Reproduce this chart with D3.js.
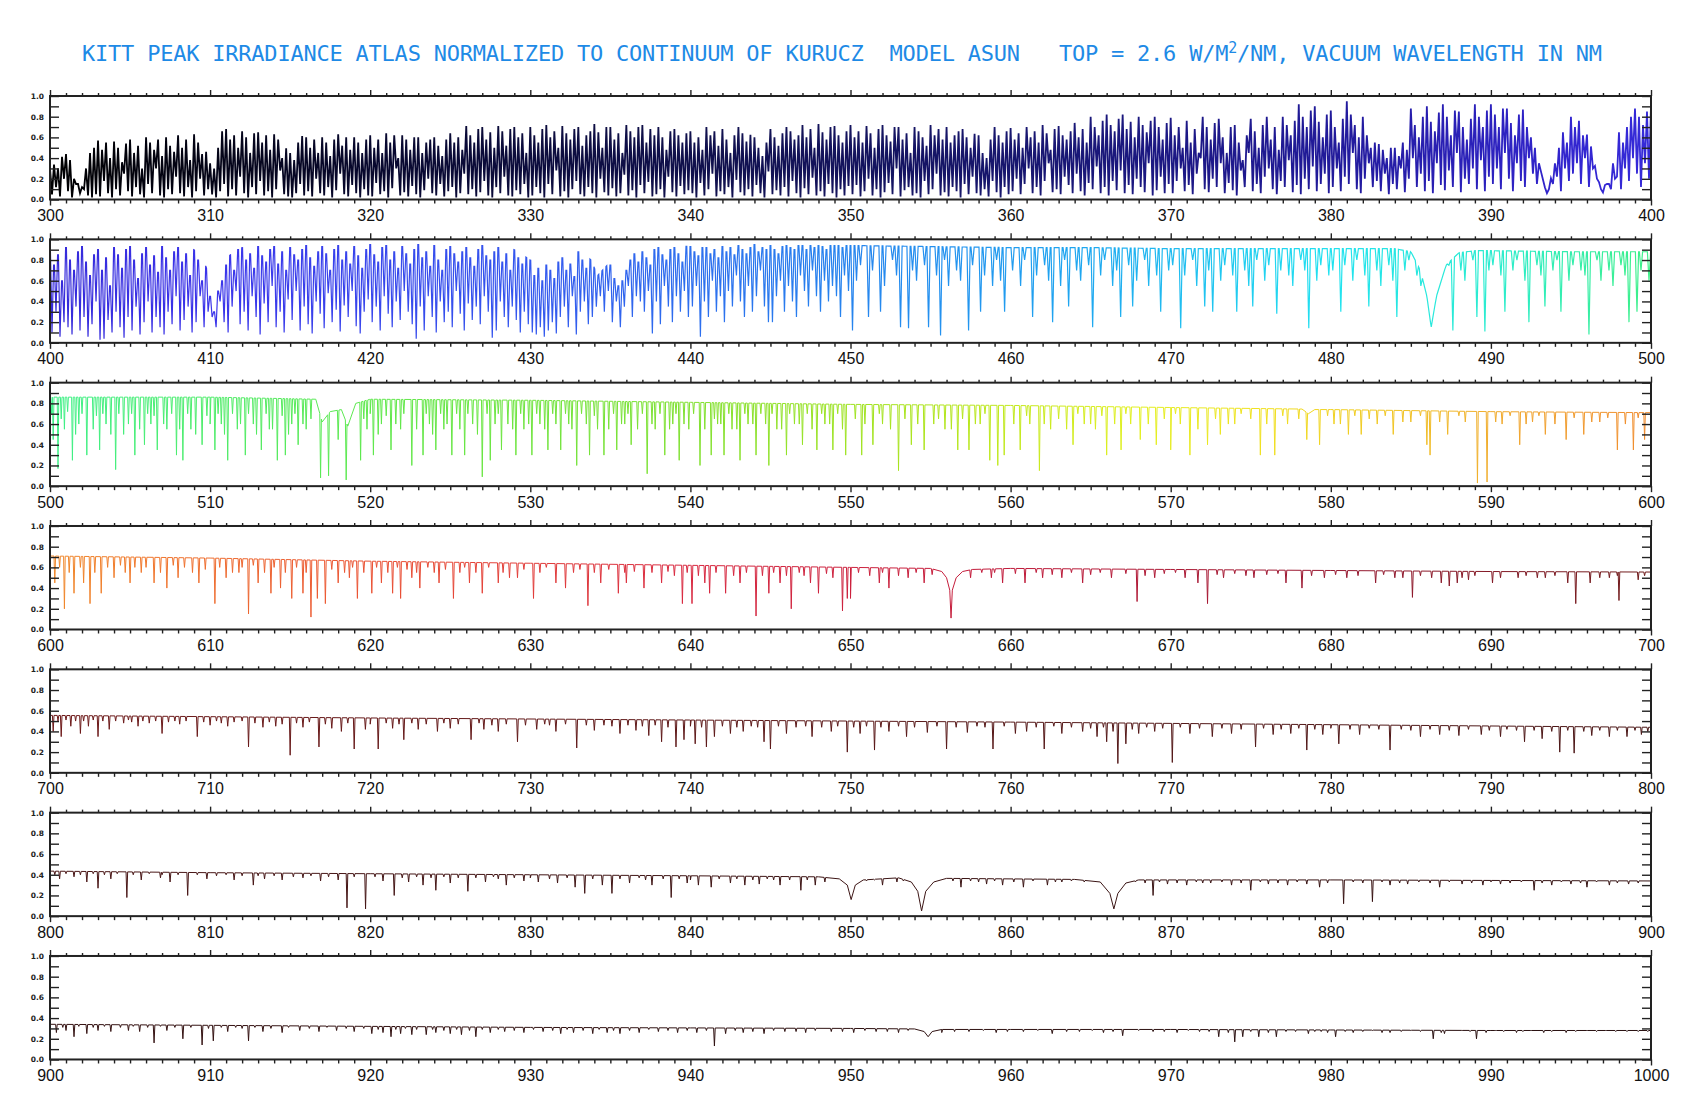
<!DOCTYPE html>
<html>
<head>
<meta charset="utf-8">
<script src="https://cdn.jsdelivr.net/npm/d3@7"></script>
<style>
  body { margin: 0; background: #fff; }
  text { white-space: pre; }
</style>
</head>
<body>
<svg id="chart"></svg>
<script>
// values: flux is normalized, 0..1 on every panel

var panelStarts = [300, 400, 500, 600, 700, 800, 900];

var yTicks = [0, 0.1, 0.2, 0.3, 0.4, 0.5, 0.6, 0.7, 0.8, 0.9, 1.0];
var yTickLabels = ["0.0", "", "0.2", "", "0.4", "", "0.6", "", "0.8", "", "1.0"];

// colour of the trace along the wavelength
var rampNm = [300, 320, 340, 360, 380, 395, 410, 430, 450, 465, 480, 490, 500, 520, 540, 555, 568, 576, 584, 592, 605, 620, 640, 660, 680, 700, 760, 850, 1000];
var rampColor = ["#000000", "#08082e", "#10104c", "#17166e", "#211a9a", "#3225d0", "#3b34ea", "#3458ee", "#2684ee", "#1fa8f0",
  "#22e2f0", "#2cecd0", "#3ef088", "#5ee84c", "#80e030", "#aee41c", "#e2f020", "#f0e020", "#f0c424", "#f0a42e",
  "#f07a2c", "#ea5234", "#d82840", "#c01a3a", "#981830", "#6e1a1a", "#561818", "#3c1414", "#281010"];

// upper envelope (continuum and broad lines), [nm, flux]
var env300 = [[300,.30],[301,.45],[301.6,.40],[302,.15],[302.4,.45],[303,.57],[304,.56],[305,.58],[306,.60],[307,.62],[308,.62],[309,.63],[309.8,.45],[310.2,.35],[310.6,.66],[311,.68],[312,.66],[313,.65],[314,.63],[315,.45],[315.6,.62],[316,.60],[317,.60],[318,.63],[319,.60],[320,.62],[321,.64],[322,.62],[323,.60],[324,.60],[325,.64],[326,.71],[327,.70],[328,.71],[329,.70],[330,.70],[331,.72],[332,.71],[333,.70],[334,.73],[335,.70],[336,.72],[337,.72],[338,.70],[339,.68],[340,.66],[341,.70],[342,.68],[343,.70],[344,.60],[345,.68],[346,.70],[347,.72],[348,.73],[349,.71],[350,.72],[351,.71],[352,.72],[353,.70],[354,.70],[355,.72],[356,.70],[357,.68],[358,.62],[359,.70],[360,.69],[361,.70],[362,.72],[363,.71],[364,.74],[365,.80],[366,.82],[367,.82],[368,.80],[369,.80],[370,.79],[371,.76],[372,.80],[373,.78],[374,.72],[375,.78],[376,.80],[377,.80],[378,.92],[379,.90],[380,.86],[381,.95],[382,.80],[382.8,.55],[383.5,.50],[384.3,.55],[385,.88],[386,.90],[387,.92],[388,.85],[389,.92],[390,.92],[391,.88],[392,.87],[392.6,.65],[393,.35],[393.48,.05],[394,.35],[394.5,.70],[395,.80],[395.6,.78],[396.2,.55],[396.6,.25],[396.97,.05],[397.4,.30],[398,.65],[398.6,.82],[399,.88],[400,.90]];
var env400 = [[400,.90],[401,.92],[402,.93],[403,.90],[404,.92],[405,.93],[406,.92],[407,.93],[408,.92],[409,.90],[409.6,.80],[410.0,.62],[410.29,.50],[410.6,.62],[411,.80],[411.5,.90],[412,.92],[413,.93],[414,.93],[415,.92],[416,.94],[417,.93],[418,.94],[419,.93],[420,.95],[421,.94],[422,.93],[423,.95],[424,.94],[425,.93],[426,.92],[427,.94],[428,.92],[429,.90],[430,.80],[430.5,.75],[431,.82],[432,.88],[433,.90],[433.8,.80],[434.2,.65],[434.8,.75],[435.4,.88],[436,.90],[437,.93],[438,.92],[439,.94],[440,.93],[441,.92],[442,.93],[443,.94],[444,.95],[445,.94],[450,.94],[455,.93],[460,.92],[465,.92],[470,.91],[475,.91],[480,.91],[484,.91],[485,.88],[485.6,.70],[486.0,.45],[486.27,.15],[486.6,.45],[487.2,.75],[488,.87],[489,.89],[490,.89],[495,.88],[500,.88]];
var env500 = [[500,.86],[510,.86],[516.6,.84],[517.0,.62],[517.5,.72],[518.2,.74],[518.6,.58],[519.1,.80],[520,.84],[530,.83],[540,.81],[550,.79],[560,.78],[570,.76],[578.2,.745],[578.6,.70],[579,.74],[580,.74],[590,.72],[600,.71]];
var env600 = [[600,.71],[610,.69],[620,.66],[630,.64],[640,.62],[650,.60],[655,.59],[655.7,.56],[656.0,.50],[656.2,.38],[656.28,.11],[656.36,.38],[656.6,.50],[657.0,.56],[657.6,.58],[660,.59],[670,.58],[680,.57],[690,.56],[700,.555]];
var env700 = [[700,.555],[720,.53],[740,.51],[760,.49],[780,.465],[800,.44]];
var env800 = [[800,.435],[810,.42],[820,.41],[830,.40],[840,.39],[848,.38],[849.3,.36],[849.8,.30],[850.04,.16],[850.3,.30],[850.8,.35],[853,.37],[853.8,.33],[854.2,.24],[854.44,.05],[854.7,.24],[855.2,.33],[856,.365],[864,.355],[865.6,.33],[866.2,.22],[866.45,.07],[866.7,.22],[867.2,.32],[868,.35],[880,.35],[890,.345],[900,.34]];
var env900 = [[900,.34],[910,.33],[920,.32],[930,.31],[940,.305],[950,.30],[954,.295],[954.6,.27],[954.85,.22],[955.1,.27],[955.7,.29],[960,.29],[970,.29],[980,.285],[990,.28],[1000,.28]];

// crowded blue panels: line minimum in each 0.25 nm cell (1 = no line)
var dip300 = [
  .05,.12,.03,.20, .08,.02,.15,.06, .10,.04,.02,.05, .03,.18,.06,.02, .10,.04,.25,.08, .03,.12,.05,.02, .15,.06,.30,.04, .02,.10,.05,.22, .06,.03,.12,.02, .08,.20,.04,.10,
  .05,.02,.08,.15, .03,.10,.04,.22, .06,.02,.12,.05, .18,.04,.08,.02, .10,.28,.05,.03, .02,.06,.15,.04, .08,.03,.20,.06, .04,.12,.02,.09, .25,.05,.03,.14, .06,.02,.10,.04,
  .03,.16,.05,.08, .02,.11,.30,.04, .07,.03,.13,.05, .02,.09,.20,.06, .04,.15,.03,.08, .12,.02,.06,.25, .05,.10,.03,.07, .18,.04,.02,.12, .06,.22,.04,.03, .09,.05,.15,.02,
  .04,.12,.06,.02, .15,.05,.28,.03, .08,.02,.10,.18, .05,.03,.12,.06, .02,.20,.07,.04, .11,.03,.06,.24, .04,.09,.02,.14, .06,.17,.03,.05, .10,.02,.22,.07, .03,.13,.05,.09,
  .06,.02,.16,.04, .10,.25,.03,.08, .05,.12,.02,.19, .07,.04,.10,.03, .14,.06,.02,.27, .05,.09,.04,.12, .03,.18,.06,.02, .11,.05,.21,.04, .08,.03,.15,.06, .02,.10,.04,.13,
  .05,.14,.03,.08, .20,.04,.10,.02, .07,.16,.05,.30, .03,.09,.12,.04, .06,.02,.18,.05, .10,.25,.04,.07, .03,.12,.08,.02, .15,.05,.22,.06, .04,.10,.03,.18, .07,.02,.12,.05,
  .08,.20,.05,.15, .30,.06,.12,.04, .18,.35,.07,.10, .05,.22,.14,.06, .25,.08,.04,.16, .10,.32,.06,.12, .04,.18,.09,.28, .06,.14,.05,.20, .12,.07,.35,.04, .09,.22,.06,.15,
  .06,.18,.30,.08, .14,.05,.25,.40, .10,.07,.20,.12, .35,.06,.16,.09, .04,.28,.12,.45, .08,.15,.06,.22, .30,.10,.05,.18, .12,.38,.07,.14, .05,.20,.10,.32, .08,.15,.25,.06,
  .12,.30,.08,.22, .15,.45,.10,.06, .20,.35,.12,.18, .08,.25,.05,.15, .10,.30,.07,.20, .40,.12,.25,.08, .18,.06,.35,.14, .09,.28,.12,.45, .07,.20,.15,.30, .10,.38,.08,.22,
  .15,.30,.10,.45, .20,.08,.35,.18, .12,.40,.25,.15, .30,.20,.10,.15, .22,.08,.30,.18, .25,.35,.15,.40, .12,.30,.20,.10, .28,.15,.35,.22, .10,.30,.18,.40, .25,.12,.35,.20
];
// local maxima between those lines, one per cell edge (capped by the envelope)
var peak300 = [
  .35,.45,.30,.42, .44,.38,.20,.15, .12,.30,.45,.50, .57,.48,.55,.40, .56,.50,.36,.54, .58,.45,.52,.30, .60,.55,.48,.58, .42,.60,.52,.46, .62,.50,.58,.38, .63,.55,.44,.60,
  .35,.30,.50,.66, .68,.58,.62,.50, .66,.60,.45,.64, .65,.55,.62,.48, .63,.58,.40,.60, .45,.38,.55,.62, .60,.50,.58,.45, .60,.55,.42,.58, .63,.52,.60,.48, .60,.55,.45,.58,
  .62,.50,.58,.45, .64,.55,.62,.40, .62,.58,.48,.60, .60,.45,.55,.58, .60,.52,.42,.58, .64,.55,.60,.48, .71,.62,.55,.68, .70,.58,.65,.50, .71,.66,.52,.68, .70,.60,.64,.45,
  .70,.62,.55,.68, .72,.60,.66,.50, .71,.64,.58,.68, .70,.52,.62,.66, .73,.65,.50,.70, .70,.58,.64,.45, .72,.66,.60,.70, .72,.55,.68,.62, .70,.60,.48,.66, .68,.62,.55,.64,
  .66,.55,.60,.48, .70,.62,.66,.52, .68,.58,.45,.62, .70,.64,.56,.66, .60,.50,.42,.55, .68,.60,.52,.64, .70,.66,.58,.62, .72,.60,.68,.50, .73,.65,.58,.70, .71,.62,.55,.66,
  .72,.60,.66,.55, .71,.64,.50,.68, .72,.62,.56,.70, .70,.58,.64,.45, .70,.66,.60,.52, .72,.62,.68,.58, .70,.55,.62,.66, .68,.60,.50,.64, .62,.45,.40,.58, .70,.62,.55,.66,
  .69,.58,.64,.50, .70,.60,.66,.55, .72,.64,.48,.68, .71,.62,.58,.66, .74,.60,.68,.55, .80,.70,.62,.76, .82,.72,.66,.78, .82,.68,.75,.60, .80,.72,.65,.76, .80,.70,.58,.74,
  .79,.62,.70,.50, .76,.55,.68,.45, .80,.70,.58,.74, .78,.60,.45,.70, .72,.55,.38,.62, .78,.66,.50,.72, .80,.58,.70,.48, .80,.72,.62,.76, .92,.80,.70,.86, .90,.75,.60,.82,
  .86,.70,.55,.78, .95,.82,.72,.60, .80,.62,.50,.55, .55,.48,.40,.50, .50,.42,.55,.48, .88,.72,.60,.80, .90,.75,.66,.84, .92,.80,.62,.86, .85,.70,.58,.78, .92,.80,.70,.86,
  .92,.82,.70,.88, .88,.74,.62,.82, .87,.70,.60,.50, .35,.25,.15,.30, .35,.50,.65,.55, .80,.70,.76,.62, .78,.65,.55,.48, .25,.15,.10,.20, .65,.55,.70,.80, .88,.80,.72,.85
];
var dip400 = [
  .10,.30,.06,.20, .15,.08,.35,.12, .25,.06,.18,.40, .03,.04,.22,.10, .30,.15,.05,.25, .12,.35,.08,.20, .40,.10,.25,.15, .08,.30,.18,.45, .12,.22,.35,.10, .20,.45,.15,.30,
  .25,.15,.40,.20, .10,.35,.50,.18, .30,.12,.45,.25, .08,.38,.20,.55, .15,.30,.10,.42, .22,.50,.12,.35, .18,.09,.40,.28, .14,.48,.20,.32, .11,.36,.25,.50, .16,.09,.30,.42,
  .20,.35,.12,.45, .28,.15,.40,.22, .50,.30,.18,.04, .35,.12,.45,.25, .10,.40,.20,.30, .15,.50,.28,.12, .38,.22,.35,.18, .45,.30,.05,.12, .40,.25,.15,.35, .22,.10,.30,.18,
  .10,.08,.15,.06, .12,.20,.09,.25, .35,.15,.45,.08, .30,.40,.18,.25, .35,.45,.30,.50, .20,.40,.15,.35, .55,.25,.45,.40, .30,.50,.09,.40, .18,.55,.35,.20, .45,.30,.50,.25,
  .35,.55,.06,.40, .25,.60,.30,.45, .20,.50,.35,.65, .40,.25,.55,.30, .45,.70,.35,.20, .20,.45,.60,.30, .55,.40,.25,.65, .50,.35,.70,.45, .30,.60,.40,.55, .45,.25,.65,.50,
  .12,.60,.75,1, .25,.70,1,.30, .55,1,.80,.65, .15,1,.14,.70, .60,1,.75,.15, 1,.65,.07,.80, .55,1,.70,.60, 1,.12,.75,1, .30,.65,1,.55, .80,.60,.30,1,
  .70,1,.55,.80, 1,.25,.65,1, .75,.60,.20,1, .55,.80,.35,1, .70,.60,1,.75, .15,1,.65,.80, 1,.55,.70,.25, 1,.75,.35,.60, 1,.80,.55,1, .65,.30,1,.70,
  .75,1,.14,.65, 1,.80,.55,1, .35,.70,.30,1, .60,.75,1,.65, .30,1,.70,.55, .35,.80,1,.60, .75,1,.28,.70, 1,.65,.55,1, .80,.70,.14,1, .60,.75,1,.65,
  .70,1,.30,.75, 1,.60,.80,1, .65,.35,1,.70, .55,1,.75,.60, .25,1,.70,.80, 1,.65,.55,.75, .60,.40,.50,.65, 1,.75,.12,1, .70,.60,1,.80, .25,1,.11,.70,
  .75,1,.65,.30, 1,.70,.80,1, .60,.20,1,.75, .65,.35,1,.70, .80,.30,1,.60, .75,1,.70,.65, .08,1,.80,.60, 1,.70,.55,1, .75,.65,.20,1, .30,.70,1,.60
];
// peaks only matter where the forest is dense (400-450); past that the envelope is reached
var peak400 = [
  .90,.75,.85,.60, .92,.80,.70,.88, .93,.78,.65,.85, .90,.70,.82,.55, .92,.85,.72,.90, .93,.80,.62,.86, .92,.75,.84,.68, .93,.82,.70,.88, .92,.78,.86,.65, .90,.80,.60,.75,
  .45,.30,.50,.60, .75,.85,.70,.90, .92,.80,.86,.72, .93,.84,.78,.90, .93,.76,.88,.70, .92,.85,.80,.90, .94,.82,.74,.88, .93,.86,.70,.90, .94,.80,.88,.76, .93,.84,.72,.90,
  .95,.85,.78,.92, .94,.80,.88,.72, .93,.86,.76,.90, .95,.82,.88,.74, .94,.80,.70,.90, .93,.86,.78,.88, .92,.82,.74,.90, .94,.84,.80,.88, .92,.78,.86,.70, .90,.82,.76,.86,
  .80,.65,.72,.60, .75,.70,.62,.78, .82,.70,.76,.64, .88,.80,.72,.85, .90,.82,.76,.86, .75,.62,.55,.60, .70,.80,.86,.78, .88,.82,.75,.90, .93,.85,.80,.90, .92,.86,.78,.94,
  .93,.88,.84,.92, .92,.86,.90,.82, .93,.88,.92,.85, .94,.90,.86,.92, .95,.88,.92,.90, .94,.90,.86,.93, 1,.92,.90,1, .94,.90,1,.92, 1,.93,.90,1, .94,1,.92,1
];

// single absorption lines, [nm, flux at line centre]
var lines500 = [[500.2,.45],[500.5,.17],[500.9,.55],[501.4,.25],[501.8,.6],[502.3,.30],[502.7,.55],[503.1,.35],[503.5,.6],[504.1,.16],[504.6,.5],[505.3,.30],[505.9,.40],[506.3,.6],[506.7,.35],[507.3,.55],[507.9,.30],[508.3,.25],[508.8,.55],[509.5,.40],[510.3,.35],[510.7,.6],[511.1,.25],[511.7,.55],[512.2,.30],[512.7,.6],[513.2,.35],[513.7,.55],[514.2,.25],[514.7,.30],[515.1,.6],[515.5,.40],[516.0,.55],[516.9,.08],[517.4,.10],[518.0,.45],[518.5,.06],[519.4,.25],[519.8,.55],[520.2,.30],[520.7,.6],[521.3,.35],[521.9,.55],[522.6,.20],[523.3,.30],[523.7,.6],[524.1,.35],[524.6,.55],[525.1,.30],[525.9,.30],[526.4,.6],[527.0,.09],[527.5,.25],[528.2,.35],[528.6,.6],[529.1,.30],[529.6,.55],[530.1,.30],[530.6,.6],[531.1,.35],[531.9,.35],[532.4,.6],[532.9,.20],[533.7,.30],[534.2,.55],[534.6,.30],[535.4,.35],[535.9,.6],[536.3,.40],[537.3,.12],[537.8,.55],[538.4,.30],[538.9,.6],[539.3,.25],[539.9,.55],[540.6,.20],[541.3,.30],[541.7,.6],[542.1,.30],[542.6,.55],[543.1,.25],[543.6,.6],[544.1,.30],[544.9,.20],[545.4,.55],[546.0,.30],[546.5,.6],[547.0,.40],[547.9,.35],[548.4,.6],[548.9,.35],[549.7,.30],
  [550.7,.30],[551.4,.40],[552.0,.6],[553.0,.15],[553.8,.40],[554.6,.35],[555.2,.6],[555.9,.55],[556.7,.35],[557.4,.35],[558.1,.6],[558.7,.25],[559.2,.20],[559.6,.30],[560.6,.35],[561.2,.6],[561.8,.15],[562.5,.55],[563.9,.40],[564.6,.6],[565.3,.55],[566.0,.30],[566.9,.35],[567.5,.6],[568.1,.45],[569.1,.40],[570.0,.35],[570.6,.6],[571.2,.30],[572.3,.40],[573.1,.50],[574.0,.6],[575.6,.30],[576.5,.30],[577.3,.6],[578.5,.45],[579.3,.40],[580.2,.6],[581.1,.50],[581.9,.50],[582.9,.6],[583.9,.50],[585.0,.62],[586.0,.40],[586.2,.30],[587.3,.50],[588.4,.62],[589.16,.03],[589.76,.04],[590.7,.6],[591.8,.40],[592.6,.62],[593.4,.50],[594.7,.45],[595.8,.50],[596.8,.62],[597.9,.35],[598.9,.35],[599.6,.45]];
var weak500 = [[500.1,.7],[500.7,.65],[501.1,.72],[501.6,.5],[502.0,.7],[502.9,.68],[503.3,.7],[503.8,.5],[504.3,.7],[504.9,.6],[505.1,.7],[505.6,.55],[506.1,.7],[506.5,.68],[507.1,.6],[507.6,.7],[508.1,.55],[508.6,.7],[509.1,.5],[509.8,.68],[510.0,.6],[510.5,.7],[510.9,.5],[511.4,.7],[511.9,.6],[512.4,.7],[512.9,.5],[513.5,.7],[513.9,.55],[514.5,.68],[514.9,.5],[515.3,.7],[515.8,.6],[516.3,.65],
  [519.6,.65],[520.0,.7],[520.5,.5],[521.0,.68],[521.6,.6],[522.1,.7],[522.9,.55],[523.5,.7],[523.9,.5],[524.4,.7],[524.8,.6],[525.4,.7],[525.6,.55],[526.1,.7],[526.7,.5],[527.3,.7],[527.8,.6],[528.0,.7],[528.9,.55],[529.4,.7],[529.9,.6],[530.4,.7],[530.9,.55],[531.4,.7],[531.6,.6],[532.2,.7],[532.6,.55],[533.2,.7],[533.5,.6],[534.0,.68],[534.9,.55],[535.2,.7],[535.7,.6],[536.1,.7],[536.7,.55],[537.0,.7],[537.6,.6],[538.1,.7],[538.7,.55],[539.1,.7],[539.6,.6],[540.2,.7],[540.9,.55],[541.5,.65],[541.9,.6],[542.4,.7],[542.9,.55],[543.4,.7],[543.9,.6],[544.4,.7],[544.7,.6],[545.1,.7],[545.7,.55],[546.2,.7],[546.8,.6],[547.3,.7],[547.6,.55],[548.2,.7],[548.7,.6],[549.2,.7],[549.5,.55],
  [550.3,.65],[550.9,.6],[551.8,.7],[552.5,.55],[553.4,.65],[554.2,.6],[555.5,.65],[556.3,.55],[557.0,.65],[557.8,.6],[558.4,.7],[560.2,.6],[561.0,.68],[562.1,.6],[563.0,.65],[563.5,.55],[564.2,.7],[565.0,.6],[565.7,.68],[566.5,.6],[567.2,.7],[568.6,.6],[569.6,.65],[570.3,.7],[571.7,.55],[572.8,.65],[573.6,.6],[574.4,.7],[575.0,.65],[576.0,.6],[577.0,.68],[578.0,.65],[579.8,.68],[580.6,.6],[581.5,.68],[582.4,.65],[583.4,.68],[584.5,.62],[585.6,.68],[586.8,.62],[588.0,.68],[590.3,.62],[591.2,.68],[592.2,.6],[593.0,.68],[594.0,.6],[595.2,.66],[596.3,.62],[597.3,.66],[598.4,.6],[599.2,.66]];
var lines600 = [[600.3,.45],[600.9,.20],[601.5,.35],[602.1,.45],[602.5,.25],[603.2,.35],[604.0,.5],[605.0,.45],[605.7,.55],[606.5,.45],[607.3,.40],[608.0,.50],[608.9,.55],[609.3,.45],[610.3,.25],[611.0,.50],[611.8,.55],[612.4,.15],[613.0,.45],[613.8,.35],[614.4,.40],[615.1,.30],[615.8,.35],[616.3,.12],[616.7,.30],[617.2,.25],[618.0,.45],[618.7,.5],[619.2,.30],[620.1,.35],[620.7,.45],[621.4,.35],[621.9,.30],[622.6,.5],[623.1,.40],[624.3,.45],[625.2,.30],[626.2,.45],[627.0,.35],[628.0,.45],[628.7,.5],[629.2,.5],[630.2,.30],[631.6,.45],[632.2,.40],[633.6,.23],[634.4,.45],[635.5,.35],[636.0,.45],[637.1,.40],[638.2,.45],[639.5,.25],[640.1,.25],[640.9,.45],[641.2,.35],[642.2,.35],[643.1,.45],[644.1,.13],[644.9,.35],[645.6,.45],[646.3,.20],[647.5,.45],[648.0,.35],[649.5,.18],[649.8,.30],[650.0,.30],[651.8,.45],[652.4,.40],[653.6,.5],[654.6,.45],[657.5,.50],[658.8,.5],[659.5,.45],[660.9,.45],[662.0,.5],[663.2,.50],[664.5,.45],[666.3,.50],[667.9,.27],[669.0,.5],[670.9,.50],[671.7,.45],[672.3,.25],[673.3,.5],[675.2,.50],[677.2,.45],[678.2,.40],[679.6,.5],[681.0,.5],[682.8,.45],[684.0,.5],[685.1,.31],[686.9,.45],[687.4,.42],[687.9,.45],[688.6,.48],[690.1,.45],[691.7,.5],[693.4,.5],[694.8,.45],[695.3,.25],[696.2,.45],[697.4,.5],[698.0,.28],[699.2,.48]];
var weak600 = [[600.6,.6],[601.2,.55],[601.9,.6],[602.8,.55],[603.6,.6],[604.4,.62],[604.7,.55],[605.3,.6],[606.0,.6],[606.9,.55],[607.7,.62],[608.4,.6],[609.7,.58],[610.6,.6],[611.4,.55],[612.0,.6],[612.7,.62],[613.4,.55],[614.0,.6],[614.7,.55],[615.4,.6],[616.0,.55],[617.6,.58],[618.4,.55],[618.9,.6],[619.6,.55],[620.4,.6],[621.1,.55],[621.7,.6],[622.3,.58],[622.9,.55],[623.6,.6],[624.0,.55],[624.7,.58],[625.6,.55],[625.9,.6],[626.6,.55],[627.4,.6],[628.3,.55],[629.6,.58],[630.6,.55],[631.0,.6],[632.7,.55],[633.1,.58],[634.0,.55],[634.9,.58],[635.9,.55],[636.5,.56],[637.6,.55],[638.6,.56],[639.0,.52],[639.8,.55],[640.5,.52],[641.6,.55],[642.7,.52],[643.5,.55],[644.5,.52],[645.2,.55],[646.0,.52],[646.8,.55],[647.1,.52],[648.5,.54],[648.9,.5],[650.5,.55],[651.2,.52],[652.0,.55],[653.0,.52],[654.1,.55],[655.1,.53],[658.2,.55],[659.0,.55],[660.3,.54],[661.6,.55],[662.6,.53],[663.8,.55],[665.0,.53],[665.6,.55],[667.2,.54],[668.4,.52],[669.6,.54],[670.3,.55],[672.9,.53],[674.0,.54],[674.7,.52],[676.0,.53],[676.7,.54],[678.8,.52],[680.3,.53],[681.7,.52],[683.3,.53],[684.5,.5],[685.6,.52],[686.3,.5],[688.2,.5],[689.0,.52],[690.6,.5],[692.2,.52],[692.9,.5],[694.0,.52],[696.8,.5],[697.9,.52],[699.6,.52]];
var lines700 = [[700.2,.40],[700.7,.35],[701.3,.45],[701.9,.38],[702.4,.45],[703.0,.35],[703.7,.42],[704.6,.48],[705.5,.45],[706.2,.48],[707.0,.38],[708.1,.47],[709.2,.35],[710.0,.46],[711.1,.45],[712.4,.25],[713.3,.44],[714.1,.45],[715.0,.17],[715.8,.44],[716.8,.25],[717.6,.43],[718.2,.40],[719.0,.23],[719.7,.42],[720.5,.23],[721.4,.43],[722.1,.32],[723.0,.42],[724.2,.40],[725.0,.43],[726.3,.32],[727.1,.42],[728.0,.40],[729.2,.30],[730.4,.42],[731.6,.40],[732.9,.24],[734.0,.41],[735.6,.38],[736.6,.41],[737.4,.36],[738.2,.30],[739.1,.25],[739.6,.32],[740.3,.28],[741.0,.25],[741.5,.35],[742.5,.38],[743.3,.40],[744.6,.30],[745.0,.23],[746.0,.38],[747.6,.35],[748.8,.40],[749.8,.20],[750.6,.38],[751.5,.22],[752.4,.40],[753.5,.35],[754.8,.39],[756.0,.23],[757.3,.39],[758.9,.23],[760.3,.38],[761.0,.40],[762.1,.23],[763.2,.38],[764.5,.40],[765.4,.35],[766.0,.30],[766.7,.09],[767.2,.28],[768.0,.38],[769.0,.40],[770.1,.10],[771.2,.38],[772.6,.35],[773.8,.38],[775.3,.25],[776.4,.37],[777.5,.38],[778.5,.22],[779.5,.37],[780.5,.28],[781.8,.37],[783.7,.22],[785.6,.35],[786.8,.37],[788.0,.36],[789.4,.37],[790.6,.35],[792.1,.30],[793.2,.33],[794.3,.20],[795.2,.19],[796.3,.36],[797.4,.35],[798.5,.35],[799.4,.37]];
var weak700 = [[700.5,.50],[701.0,.51],[701.6,.5],[702.1,.5],[702.7,.51],[703.3,.5],[704.1,.5],[704.9,.51],[705.1,.49],[705.8,.5],[706.6,.5],[707.4,.49],[707.8,.5],[708.5,.5],[709.6,.49],[710.4,.5],[710.7,.48],[711.5,.49],[712.0,.5],[712.8,.48],[713.7,.49],[714.5,.47],[715.4,.48],[716.2,.49],[717.2,.47],[718.6,.48],[720.0,.47],[721.0,.48],[721.8,.47],[722.6,.48],[723.5,.47],[724.6,.48],[725.5,.47],[726.8,.48],[727.6,.46],[728.5,.47],[729.7,.46],[730.9,.47],[731.2,.46],[732.2,.47],[733.5,.46],[734.6,.46],[735.1,.45],[736.1,.46],[737.0,.45],[737.8,.46],[738.6,.44],[740.0,.45],[740.7,.44],[742.0,.45],[742.9,.44],[743.8,.45],[744.2,.44],[745.5,.45],[746.6,.44],[747.2,.45],[748.2,.44],[749.2,.45],[750.2,.44],[751.0,.45],[751.9,.44],[753.0,.45],[754.0,.44],[755.4,.45],[756.6,.44],[757.9,.45],[758.4,.44],[759.6,.45],[761.6,.44],[762.7,.45],[763.8,.44],[765.0,.43],[765.8,.44],[766.4,.40],[767.6,.42],[768.5,.44],[769.5,.43],[770.6,.44],[771.8,.43],[773.2,.43],[774.4,.42],[775.8,.43],[776.9,.42],[778.0,.43],[779.0,.42],[780.0,.43],[781.2,.42],[782.4,.43],[783.0,.42],[784.4,.42],[785.0,.41],[786.2,.42],[787.4,.41],[788.6,.42],[789.9,.41],[791.0,.42],[791.6,.41],[792.7,.41],[793.8,.40],[794.8,.41],[795.8,.40],[796.8,.41],[797.9,.41],[799.0,.41],[799.8,.40]];
var lines800 = [[800.6,.36],[801.5,.38],[802.3,.33],[803.0,.27],[803.8,.36],[804.8,.18],[805.7,.35],[806.9,.37],[807.5,.33],[808.6,.20],[809.8,.36],[811.5,.35],[812.7,.30],[813.4,.36],[814.5,.35],[815.8,.37],[816.9,.34],[818.0,.35],[818.55,.08],[819.71,.07],[820.8,.34],[821.5,.20],[822.4,.33],[823.3,.30],[824.1,.25],[825.0,.32],[826.1,.24],[827.2,.33],[828.5,.30],[829.6,.34],[830.5,.33],[831.7,.32],[832.8,.28],[833.4,.22],[834.5,.30],[835.1,.22],[836.2,.32],[837.6,.30],[838.8,.18],[839.8,.32],[840.5,.30],[841.3,.28],[842.5,.32],[843.4,.30],[844.3,.31],[845.6,.30],[846.9,.25],[847.8,.30],[848.4,.33],[852.0,.30],[852.9,.33],[856.9,.28],[858.5,.31],[859.5,.30],[860.8,.28],[862.3,.30],[863.2,.33],[868.9,.20],[869.8,.31],[871.0,.30],[872.5,.32],[873.8,.30],[875.0,.25],[876.1,.31],[877.3,.30],[878.5,.31],[879.3,.28],[880.8,.12],[882.6,.14],[883.7,.30],[884.8,.31],[886.8,.28],[888.2,.31],[889.5,.30],[890.6,.31],[892.7,.25],[893.8,.30],[895.0,.31],[896.0,.28],[897.4,.30],[898.6,.31]];
var weak800 = [[800.3,.40],[801.0,.41],[801.9,.40],[802.7,.41],[803.4,.40],[804.2,.41],[805.2,.40],[806.2,.41],[807.0,.40],[808.0,.40],[809.2,.40],[810.4,.39],[811.0,.40],[812.0,.39],[813.0,.39],[814.0,.39],[815.2,.38],[816.3,.39],[817.4,.38],[819.0,.38],[820.3,.38],[822.0,.37],[822.9,.38],[823.8,.37],[824.6,.38],[825.5,.37],[826.6,.37],[827.7,.38],[828.0,.36],[829.0,.37],[830.0,.37],[831.2,.36],[832.3,.37],[833.9,.36],[835.6,.36],[836.8,.37],[837.2,.35],[838.3,.36],[839.3,.36],[840.0,.35],[841.8,.36],[842.9,.36],[843.9,.35],[844.8,.36],[845.2,.35],[846.2,.35],[847.3,.35],[851.0,.34],[851.5,.35],[853.3,.34],[856.4,.34],[857.5,.34],[858.0,.33],[859.0,.34],[860.2,.33],[861.4,.34],[862.8,.33],[863.8,.34],[864.6,.33],[867.8,.33],[868.4,.32],[869.3,.33],[870.4,.32],[871.6,.33],[872.0,.32],[873.2,.33],[874.4,.32],[875.6,.33],[876.7,.32],[877.9,.33],[879.8,.32],[881.4,.33],[882.0,.32],[883.2,.33],[884.3,.32],[885.5,.33],[886.2,.32],[887.4,.33],[888.8,.32],[890.0,.33],[891.2,.32],[891.9,.33],[893.2,.32],[894.4,.33],[895.6,.32],[896.6,.33],[897.9,.32],[899.2,.32]];
var lines900 = [[900.4,.26],[901.0,.28],[901.5,.22],[902.3,.25],[903.0,.28],[903.8,.27],[904.9,.28],[905.6,.27],[906.5,.16],[907.3,.28],[908.3,.20],[909.5,.14],[910.2,.18],[911.1,.27],[912.4,.18],[913.3,.27],[914.5,.26],[915.6,.28],[916.8,.27],[917.9,.28],[919.0,.27],[920.1,.25],[920.8,.26],[921.3,.22],[921.9,.25],[922.6,.24],[923.5,.24],[924.1,.26],[925.0,.25],[925.7,.24],[926.6,.22],[927.5,.26],[928.4,.27],[929.6,.26],[930.8,.27],[931.9,.25],[932.7,.26],[933.9,.25],[934.8,.26],[935.6,.25],[936.8,.26],[938.0,.27],[939.2,.26],[940.4,.26],[941.5,.13],[942.2,.25],[943.3,.26],[944.6,.25],[945.9,.27],[947.2,.26],[948.8,.27],[950.2,.26],[951.6,.27],[953.0,.26],[955.7,.26],[957.4,.27],[959.1,.26],[960.8,.27],[962.6,.25],[964.3,.27],[965.8,.26],[967.0,.23],[968.9,.27],[970.4,.26],[971.8,.27],[973.0,.22],[974.0,.17],[974.5,.22],[975.5,.22],[976.6,.22],[977.8,.27],[978.6,.25],[979.4,.27],[980.3,.22],[981.4,.26],[982.6,.28],[983.7,.26],[985.0,.28],[986.4,.20],[987.1,.25],[988.2,.28],[989.1,.20],[990.3,.28],[991.6,.26],[992.5,.28],[993.3,.26],[994.7,.26],[996.0,.28],[997.2,.28],[998.5,.27],[999.8,.27]];
var weak900 = [[900.8,.31],[901.8,.32],[902.7,.31],[903.4,.32],[904.4,.31],[905.2,.32],[906.1,.31],[906.9,.32],[907.8,.31],[908.8,.31],[909.9,.30],[910.7,.31],[911.6,.31],[912.0,.30],[912.8,.31],[913.8,.30],[914.9,.31],[916.2,.30],[917.3,.31],[918.5,.30],[919.6,.30],[920.5,.29],[921.6,.29],[922.2,.30],[922.9,.29],[923.9,.29],[924.6,.28],[925.4,.29],[926.2,.28],[927.0,.29],[928.0,.29],[929.0,.28],[930.2,.29],[931.4,.28],[932.3,.29],[933.3,.28],[934.3,.29],[935.2,.28],[936.2,.28],[937.4,.29],[938.6,.28],[939.8,.28],[941.0,.28],[942.8,.28],[943.9,.27],[945.2,.28],[946.6,.27],[947.8,.28],[949.5,.27],[950.9,.28],[952.3,.27],[953.6,.28],[956.5,.27],[958.3,.28],[959.8,.27],[961.7,.28],[963.5,.27],[965.1,.28],[966.4,.27],[968.0,.28],[969.6,.27],[971.1,.28],[972.4,.27],[973.6,.26],[975.0,.27],[976.1,.26],[977.2,.27],[979.0,.27],[979.8,.26],[980.9,.27],[982.0,.27],[983.2,.26],[984.4,.27],[985.6,.27],[986.9,.26],[988.7,.27],[989.7,.26],[990.8,.27],[992.0,.27],[993.8,.27],[995.3,.27],[996.6,.27],[997.8,.27],[999.2,.27]];

var titleMain = "KITT PEAK IRRADIANCE ATLAS NORMALIZED TO CONTINUUM OF KURUCZ  MODEL ASUN   TOP = 2.6 W/M";
var titleSup = "2";
var titleEnd = "/NM, VACUUM WAVELENGTH IN NM";

// table the drawing loop works from
var panels = [
  {env: env300, dips: dip300, peaks: peak300, step: 0.25, hw: 0.125, sw: 1.8},
  {env: env400, dips: dip400, peaks: peak400, step: 0.25, hw: 0.1, sw: 1.2},
  {env: env500, lines: lines500.concat(weak500), hw: 0.05, sw: 1},
  {env: env600, lines: lines600.concat(weak600), hw: 0.05, sw: 1},
  {env: env700, lines: lines700.concat(weak700), hw: 0.05, sw: 1},
  {env: env800, lines: lines800.concat(weak800), hw: 0.05, sw: 1},
  {env: env900, lines: lines900.concat(weak900), hw: 0.05, sw: 1}
];

var left = 50, width = 1601, height = 103.5, top0 = 96, pitch = 143.33;

var svg = d3.select("#chart").attr("width", 1700).attr("height", 1100);
var defs = svg.append("defs");

var colour = d3.scaleLinear().domain(rampNm).range(rampColor).interpolate(d3.interpolateRgb);

// title
var title = svg.append("text")
  .attr("x", 82).attr("y", 61)
  .attr("textLength", 1520).attr("lengthAdjust", "spacing")
  .style("font-family", "DejaVu Sans Mono")
  .style("font-size", "22px")
  .style("fill", "#1e8ae6");
title.append("tspan").text(titleMain);
title.append("tspan").attr("dy", -8).style("font-size", "15px").text(titleSup);
title.append("tspan").attr("dy", 8).text(titleEnd);

var y = d3.scaleLinear().domain([0, 1]).range([height, 0]);

panelStarts.forEach(function(start, i) {
  var p = panels[i];
  var end = start + 100;
  var g = svg.append("g").attr("transform", "translate(" + left + "," + (top0 + i * pitch) + ")");
  var x = d3.scaleLinear().domain([start, end]).range([0, width]);

  var envScale = d3.scaleLinear()
    .domain(p.env.map(function(d) { return d[0]; }))
    .range(p.env.map(function(d) { return d[1]; }))
    .clamp(true);

  var pts = [];
  if (p.dips) {
    // cell by cell: shoulder at the left peak, line minimum, shoulder at the right peak
    p.dips.forEach(function(v, k) {
      var wc = start + (k + 0.5) * p.step;
      var pl = p.peaks[k] != null ? p.peaks[k] : 1;
      var pr = p.peaks[k + 1] != null ? p.peaks[k + 1] : 1;
      pts.push([wc - p.hw, Math.min(pl, envScale(wc - p.hw))]);
      pts.push([wc, Math.min(v, envScale(wc))]);
      pts.push([wc + p.hw, Math.min(pr, envScale(wc + p.hw))]);
    });
  } else {
    pts = p.env.map(function(d) { return [d[0], d[1]]; });
    p.lines.forEach(function(l) {
      pts.push([l[0] - p.hw, envScale(l[0] - p.hw)]);
      pts.push([l[0], Math.min(l[1], envScale(l[0]))]);
      pts.push([l[0] + p.hw, envScale(l[0] + p.hw)]);
    });
    pts = pts.filter(function(d) { return d[0] >= start && d[0] <= end; });
    pts.sort(function(a, b) { return a[0] - b[0]; });
  }

  // colour follows the wavelength
  var grad = defs.append("linearGradient")
    .attr("id", "grad" + i)
    .attr("gradientUnits", "userSpaceOnUse")
    .attr("x1", 0).attr("x2", width).attr("y1", 0).attr("y2", 0);
  grad.selectAll("stop")
    .data(d3.range(start, end + 1, 2))
    .enter().append("stop")
    .attr("offset", function(d) { return (d - start) / 100; })
    .attr("stop-color", function(d) { return colour(d); });

  var line = d3.line()
    .x(function(d) { return x(d[0]); })
    .y(function(d) { return y(d[1]); });

  g.append("path")
    .datum(pts)
    .attr("d", line)
    .attr("fill", "none")
    .attr("stroke", "url(#grad" + i + ")")
    .attr("stroke-width", p.sw)
    .attr("stroke-linejoin", "miter");

  var xMajor = d3.range(start, end + 1, 10);
  var xMinor = d3.range(start, end + 1, 1).filter(function(v) { return (v - start) % 10 !== 0; });

  var axes = [];
  axes.push(g.append("g").attr("transform", "translate(0," + height + ")")
    .call(d3.axisBottom(x).tickValues(xMajor).tickSize(6).tickPadding(4).tickFormat(d3.format("d"))));
  axes.push(g.append("g").attr("transform", "translate(0," + height + ")")
    .call(d3.axisBottom(x).tickValues(xMinor).tickSize(4).tickFormat("")));
  axes.push(g.append("g").call(d3.axisTop(x).tickValues(xMajor).tickSize(6).tickFormat("")));
  axes.push(g.append("g").call(d3.axisTop(x).tickValues(xMinor).tickSize(3).tickFormat("")));
  axes.push(g.append("g")
    .call(d3.axisLeft(y).tickValues(yTicks).tickSize(-9).tickPadding(6)
      .tickFormat(function(d, k) { return yTickLabels[k]; })));
  axes.push(g.append("g").attr("transform", "translate(" + width + ",0)")
    .call(d3.axisRight(y).tickValues(yTicks).tickSize(-9).tickFormat("")));

  axes.forEach(function(a) {
    a.select(".domain").remove();
    a.selectAll(".tick line").attr("stroke", "#222").attr("stroke-width", 1.4);
  });
  axes[0].selectAll("text")
    .style("font-family", "Liberation Sans, Arial, sans-serif")
    .style("font-size", "16px")
    .attr("fill", "#111");
  axes[4].selectAll("text")
    .style("font-family", "DejaVu Sans")
    .style("font-weight", "bold")
    .style("font-size", "7.5px")
    .attr("fill", "#222");

  g.append("rect")
    .attr("width", width).attr("height", height)
    .attr("fill", "none")
    .attr("stroke", "#222")
    .attr("stroke-width", 2);
});
</script>
</body>
</html>
